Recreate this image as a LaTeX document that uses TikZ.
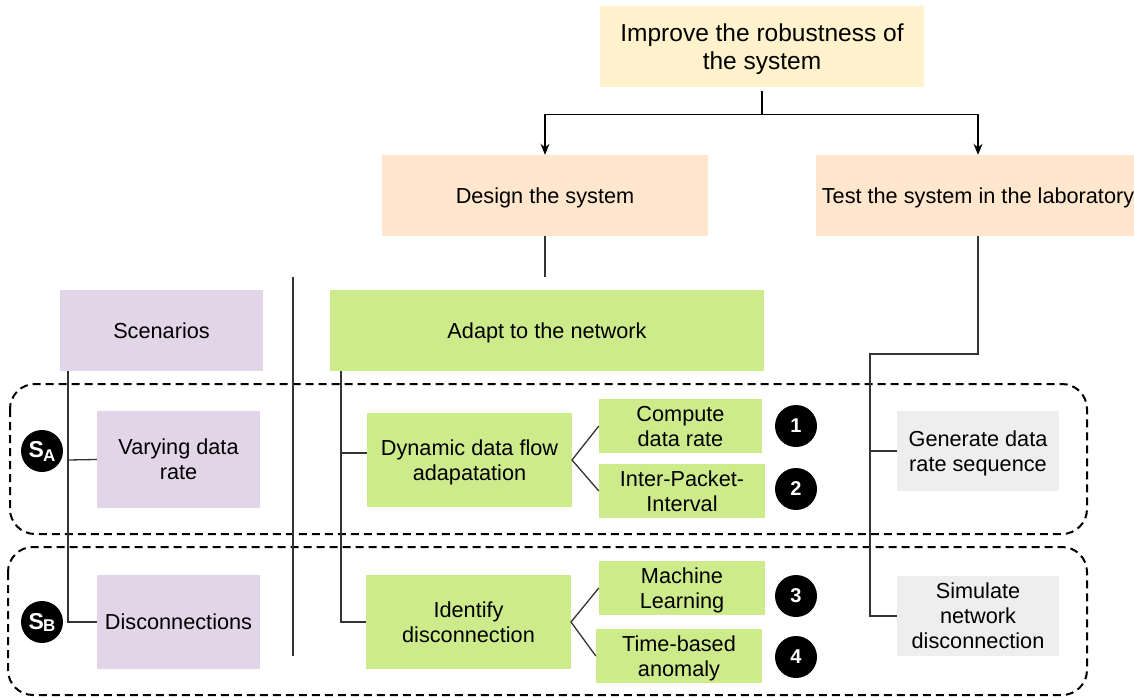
\documentclass[tikz,border=0pt]{standalone}
\usepackage{fontspec}
\setmainfont{Liberation Sans}
\usetikzlibrary{arrows.meta}
\definecolor{cyellow}{HTML}{FFF2CC}
\definecolor{cpeach}{HTML}{FFE6CC}
\definecolor{cgreen}{HTML}{CDEB8B}
\definecolor{cpurple}{HTML}{E1D5E7}
\definecolor{cgray}{HTML}{EEEEEE}
\tikzset{
  box/.style={rectangle, inner sep=0pt, align=center, text depth=0pt, font=\fontsize{21.7}{25}\selectfont},
  onel/.style={text depth=-5pt},
  num/.style={circle, fill=black, inner sep=0pt, minimum size=42pt, text=white, font=\fontsize{20}{20}\selectfont\bfseries},
  conn/.style={line width=1.3pt, draw=black!80},
  arr/.style={line width=1.3pt, draw=black, -{Stealth[length=11pt,width=9pt]}},
  zone/.style={line width=2pt, dash pattern=on 8pt off 5pt, rounded corners=25pt},
}
\begin{document}
\begin{tikzpicture}[x=1pt,y=-1pt]
\useasboundingbox (0,0) rectangle (1134,700);
% top level
\node[box, fill=cyellow, minimum width=324pt, minimum height=81pt, font=\fontsize{24.5}{28.5}\selectfont] (top) at (762,46.5) {Improve the robustness of\\the system};
\node[box, onel, fill=cpeach, minimum width=326pt, minimum height=81pt] (design) at (545,195.5) {Design the system};
\node[box, onel, fill=cpeach, minimum width=324pt, minimum height=81pt] (test) at (978,195.5) {Test the system in the laboratory};
% second level
\node[box, onel, fill=cgreen, minimum width=434pt, minimum height=81pt] (adapt) at (547,330.5) {Adapt to the network};
\node[box, onel, fill=cpurple, minimum width=203pt, minimum height=81pt] (scen) at (161.5,330.5) {Scenarios};
% scenarios
\node[box, fill=cpurple, minimum width=163pt, minimum height=97pt] (vary) at (178.5,459.5) {Varying data\\rate};
\node[box, onel, fill=cpurple, minimum width=163pt, minimum height=94pt] (disc) at (178.5,622) {Disconnections};
% design items
\node[box, fill=cgreen, minimum width=205pt, minimum height=94pt] (dyn) at (469.5,460) {Dynamic data flow\\adapatation};
\node[box, fill=cgreen, minimum width=205pt, minimum height=94pt] (ident) at (468.5,622) {Identify\\disconnection};
\node[box, fill=cgreen, minimum width=163pt, minimum height=54pt] (comp) at (680.5,426) {Compute\\data rate};
\node[box, fill=cgreen, minimum width=166pt, minimum height=54pt] (ipi) at (682,491) {Inter-Packet-\\Interval};
\node[box, fill=cgreen, minimum width=166pt, minimum height=54pt] (ml) at (682,588) {Machine\\Learning};
\node[box, fill=cgreen, minimum width=166pt, minimum height=54pt] (tba) at (679,656) {Time-based\\anomaly};
% test items
\node[box, fill=cgray, minimum width=162pt, minimum height=80pt] (gen) at (978,451) {Generate data\\rate sequence};
\node[box, fill=cgray, minimum width=162pt, minimum height=80pt] (sim) at (978,616) {Simulate\\network\\disconnection};
% numbered circles
\node[num] (n1) at (796,426) {1};
\node[num] (n2) at (796,489) {2};
\node[num] (n3) at (796,596) {3};
\node[num] (n4) at (796,657) {4};
\node[num, font=\fontsize{23}{23}\selectfont\bfseries] (sa) at (42,451) {S\kern-1pt\raisebox{-4pt}{\fontsize{17}{17}\selectfont A}};
\node[num, font=\fontsize{23}{23}\selectfont\bfseries] (sb) at (42,622) {S\kern-1pt\raisebox{-2pt}{\fontsize{17}{17}\selectfont B}};
% zones
\draw[zone] (10,384) rectangle (1087,534);
\draw[zone] (8,547) rectangle (1087,695);
% coordinates
\coordinate (sepA) at (293,277);
\coordinate (sepB) at (293,656);
\coordinate (scA) at (68,371);
\coordinate (scB) at (68,460);
\coordinate (scC) at (68,622);
\coordinate (adA) at (341,371);
\coordinate (adB) at (341,453);
\coordinate (adC) at (341,622);
\coordinate (tsA) at (870,354);
\coordinate (tsB) at (870,451);
\coordinate (tsC) at (870,616);
\coordinate (dynR) at (572,460);
\coordinate (idR) at (571,622);
% arrows
\draw[arr, shorten <=4pt] (top.south) -- ++(0,27) -| (design.north);
\draw[arr, shorten <=4pt] (top.south) -- ++(0,27) -| (test.north);
% connectors
\draw[conn] (design.south) -- ++(0,41) coordinate (dend);
\draw[conn] (sepA) -- (sepB);
\draw[conn] (scA) -- (scC) -- (disc.west);
\draw[conn] (scB) -- (vary.west);
\draw[conn] (adA) -- (adC) -- (ident.west);
\draw[conn] (adB) -- (adB -| dyn.west);
\draw[conn] (test.south) |- (tsA) -- (tsC) -- (sim.west);
\draw[conn] (tsB) -- (gen.west);
\draw[conn] (comp.west) -- (dynR) -- (ipi.west);
\draw[conn] (ml.west) -- (idR) -- (tba.west);
\end{tikzpicture}
\end{document}
